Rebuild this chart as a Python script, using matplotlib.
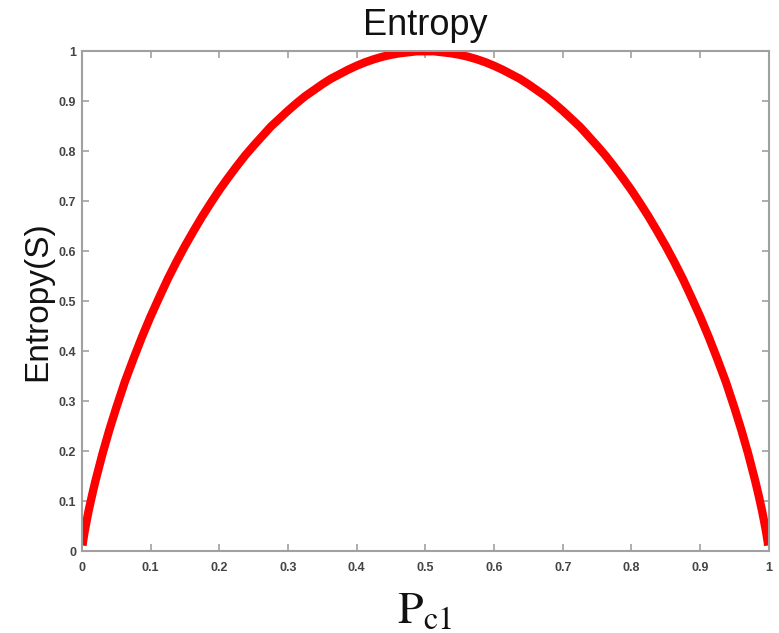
import matplotlib
matplotlib.use("Agg")
import matplotlib.pyplot as plt

# Values
p_left = [0.001, 0.002, 0.004, 0.007, 0.01, 0.015, 0.02, 0.03, 0.04, 0.05, 0.0625, 0.075,
          0.0875, 0.1, 0.1125, 0.125, 0.1375, 0.15, 0.1625, 0.175, 0.1875, 0.2, 0.2125,
          0.225, 0.2375, 0.25, 0.2625, 0.275, 0.2875, 0.3, 0.3125, 0.325, 0.3375, 0.35,
          0.3625, 0.375, 0.3875, 0.4, 0.4125, 0.425, 0.4375, 0.45, 0.4625, 0.475, 0.4875, 0.5]
s_left = [0.011, 0.021, 0.038, 0.060, 0.081, 0.112, 0.141, 0.194, 0.242, 0.286, 0.338, 0.384,
          0.428, 0.469, 0.507, 0.544, 0.578, 0.610, 0.640, 0.669, 0.696, 0.722, 0.746,
          0.769, 0.791, 0.811, 0.830, 0.849, 0.865, 0.881, 0.896, 0.910, 0.922, 0.934,
          0.945, 0.954, 0.963, 0.971, 0.978, 0.984, 0.989, 0.993, 0.996, 0.998, 1.0, 1.0]
p_right = [0.5125, 0.525, 0.5375, 0.55, 0.5625, 0.575, 0.5875, 0.6, 0.6125, 0.625, 0.6375,
           0.65, 0.6625, 0.675, 0.6875, 0.7, 0.7125, 0.725, 0.7375, 0.75, 0.7625, 0.775,
           0.7875, 0.8, 0.8125, 0.825, 0.8375, 0.85, 0.8625, 0.875, 0.8875, 0.9, 0.9125,
           0.925, 0.9375, 0.95, 0.96, 0.97, 0.98, 0.985, 0.99, 0.993, 0.996, 0.998, 0.999]
s_right = [1.0, 0.998, 0.996, 0.993, 0.989, 0.984, 0.978, 0.971, 0.963, 0.954, 0.945,
           0.934, 0.922, 0.910, 0.896, 0.881, 0.865, 0.849, 0.830, 0.811, 0.791, 0.769,
           0.746, 0.722, 0.696, 0.669, 0.640, 0.610, 0.578, 0.544, 0.507, 0.469, 0.428,
           0.384, 0.338, 0.286, 0.242, 0.194, 0.141, 0.112, 0.081, 0.060, 0.038, 0.021, 0.011]
p_vals = p_left + p_right
s_vals = s_left + s_right

x_ticks = [0, 0.1, 0.2, 0.3, 0.4, 0.5, 0.6, 0.7, 0.8, 0.9, 1]
x_tick_labels = ["0", "0.1", "0.2", "0.3", "0.4", "0.5", "0.6", "0.7", "0.8", "0.9", "1"]
y_ticks = [0, 0.1, 0.2, 0.3, 0.4, 0.5, 0.6, 0.7, 0.8, 0.9, 1]
y_tick_labels = ["0", "0.1", "0.2", "0.3", "0.4", "0.5", "0.6", "0.7", "0.8", "0.9", "1"]

plt.rcParams["mathtext.fontset"] = "stix"

fig = plt.figure(figsize=(7.79, 6.33), dpi=100)
ax = fig.add_axes([0.105, 0.1295, 0.882, 0.7895])

ax.plot(p_vals, s_vals, color="#ff0000", linewidth=6, solid_capstyle="butt",
        solid_joinstyle="round")
ax.set_xlim(0, 1)
ax.set_ylim(0, 1)
ax.set_xticks(x_ticks)
ax.set_xticklabels(x_tick_labels)
ax.set_yticks(y_ticks)
ax.set_yticklabels(y_tick_labels)

frame_col = "#a0a0a0"
for sp in ax.spines.values():
    sp.set_color(frame_col)
    sp.set_linewidth(1.5)
ax.tick_params(direction="in", top=True, right=True, length=5, width=1.2,
               color=frame_col, labelcolor="#444444", labelsize=9)
ax.tick_params(axis="x", pad=8)
ax.tick_params(axis="y", pad=4)
for lab in ax.get_xticklabels() + ax.get_yticklabels():
    lab.set_family("Liberation Sans")
    lab.set_fontweight("bold")

ax.set_title("Entropy", fontsize=26, family="Liberation Sans", color="#111111", pad=11.5)
ax.yaxis.set_label_coords(-0.042, 0.498)
ax.set_ylabel("Entropy(S)", fontsize=24, family="Liberation Sans", color="#111111")

fig.text(0.545, 0.016, r"$\mathrm{P}_{\mathrm{c1}}$", fontsize=33, ha="center",
         va="baseline", color="#111111")

fig.savefig("out.png", dpi=100)
